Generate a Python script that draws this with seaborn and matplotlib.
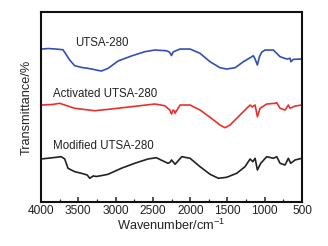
import numpy as np
import pandas as pd
import matplotlib
matplotlib.use('Agg')
import matplotlib.pyplot as plt
import seaborn as sns
from matplotlib.ticker import MultipleLocator

# FTIR spectra (wavenumber in cm-1, transmittance in arbitrary offset units)
blue_wn = [4000, 3900, 3800, 3705, 3615, 3548, 3450, 3370, 3191, 3100, 2967, 2880, 2789, 2610,
           2475, 2320, 2280, 2250, 2230, 2200, 2136, 2002, 1868, 1734, 1600, 1510, 1398, 1287,
           1197, 1153, 1130, 1099, 1072, 1040, 996, 885, 795, 705, 661, 650, 617, 504, 500]
blue_t = [153, 153.5, 153, 152.3, 142, 136.3, 134.5, 133.7, 131, 133.7, 141, 143.5, 146, 150.3,
          152, 151.3, 150, 146.5, 150, 151, 153, 153, 148.7, 140.3, 134.3, 133, 134.3, 140.3,
          144.3, 146.3, 143, 137, 145.3, 150, 152, 152, 145.3, 143, 143.7, 140.3, 142.7, 143, 143]

red_wn = [4000, 3850, 3750, 3682, 3548, 3280, 3057, 2789, 2475, 2341, 2274, 2250, 2230, 2210,
          2203, 2136, 2002, 1868, 1734, 1600, 1533, 1466, 1376, 1265, 1197, 1170, 1153, 1130,
          1099, 1063, 974, 862, 840, 795, 728, 684, 661, 594, 504, 500]
red_t = [97, 97.5, 98.7, 97, 93.7, 91.3, 93, 95.3, 98, 96.3, 92, 88, 92, 91,
         88.7, 97, 97, 92, 84.7, 77, 74.3, 77, 83.7, 92, 97, 95, 96, 97,
         85.3, 93.7, 98, 98.7, 99.3, 93.7, 92, 97, 93.7, 96, 97, 97]

black_wn = [4000, 3839, 3728, 3682, 3638, 3548, 3460, 3380, 3347, 3300, 3258, 3180, 3102, 2923,
            2744, 2565, 2454, 2364, 2297, 2270, 2250, 2203, 2113, 2002, 1868, 1734, 1622, 1510,
            1376, 1265, 1197, 1161, 1130, 1099, 1054, 974, 885, 840, 795, 728, 684, 653, 594,
            504, 500]
black_t = [43, 44.3, 45.3, 43, 33.7, 30.3, 28.7, 27, 23.7, 26, 25.5, 26.5, 27.7, 33.7,
           38.7, 43, 44.3, 41, 38.7, 39.7, 42, 37.7, 45.3, 43.7, 35.3, 27.7, 23.7, 24.7,
           28.7, 35.3, 43, 40.3, 43.7, 32, 38.7, 45.3, 43.7, 45.3, 38.7, 37, 43.7, 38.7, 42,
           43.7, 43.7]

names = ['UTSA-280', 'Activated UTSA-280', 'Modified UTSA-280']
label_wn = [3544, 3839, 3839]
label_t = [159, 108, 56]
colors = ['#3350b0', '#e8312d', '#222222']

df = pd.concat([
    pd.DataFrame({'wn': blue_wn, 't': blue_t, 'sample': names[0]}),
    pd.DataFrame({'wn': red_wn, 't': red_t, 'sample': names[1]}),
    pd.DataFrame({'wn': black_wn, 't': black_t, 'sample': names[2]}),
])

sns.set_style('ticks')
plt.rcParams['font.family'] = ['Liberation Sans', 'DejaVu Sans']
plt.rcParams['mathtext.fontset'] = 'custom'
plt.rcParams['mathtext.rm'] = 'Liberation Sans'

fig = plt.figure(figsize=(3.28, 2.46), dpi=100)
ax = fig.add_axes([0.125, 0.179, 0.796, 0.772])

sns.lineplot(data=df, x='wn', y='t', hue='sample', palette=dict(zip(names, colors)),
             sort=False, estimator=None, linewidth=1.2, legend=False, ax=ax)

for name, x, y in zip(names, label_wn, label_t):
    ax.text(x, y, name, fontsize=8.3, color='#222222', va='center', ha='left')

ax.set_xlim(4000, 500)
ax.set_ylim(0, 190)
ax.xaxis.set_major_locator(MultipleLocator(500))
ax.xaxis.set_minor_locator(MultipleLocator(250))
ax.tick_params(axis='x', which='major', direction='in', length=3.5, width=1.1,
               labelsize=8.6, pad=2, colors='#222222')
ax.tick_params(axis='x', which='minor', direction='in', length=2, width=0.9)
ax.set_yticks([])
for s in ax.spines.values():
    s.set_linewidth(1.5)
    s.set_color('#111111')

ax.set_xlabel('Wavenumber/cm$\\mathregular{^{-1}}$', fontsize=9.2, labelpad=1, color='#222222')
ax.set_ylabel('Transmittance/%', fontsize=9.2, labelpad=6, color='#222222')

fig.savefig('out.png', dpi=100)
